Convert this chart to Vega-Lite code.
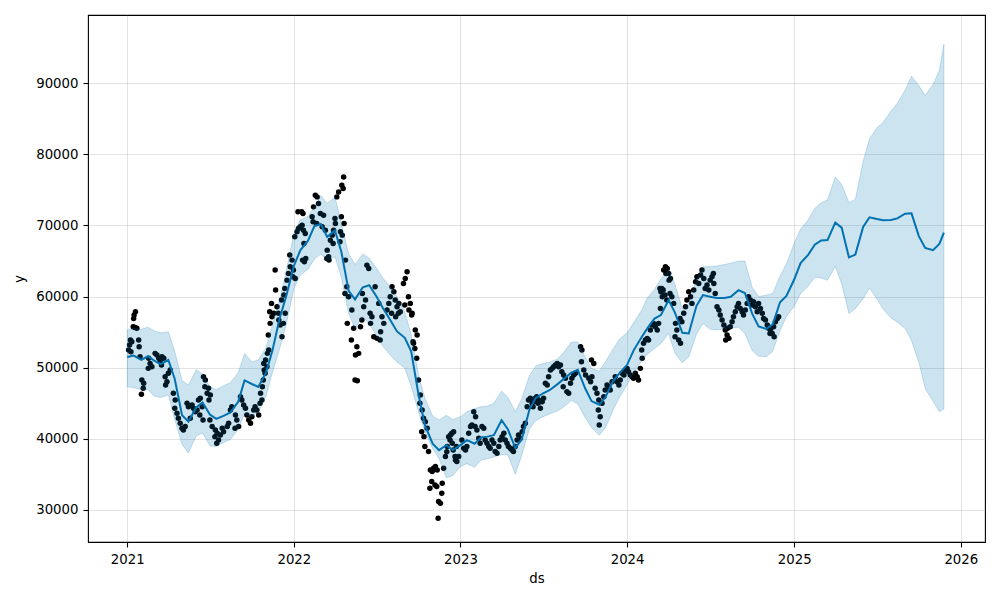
{
"$schema": "https://vega.github.io/schema/vega-lite/v6.json",
"width": 897, "height": 527,
"autosize": {"type": "none"},
"padding": {"left": 88, "top": 15, "right": 15, "bottom": 58},
"background": "white",
"config": {
 "view": {"stroke": "#000", "strokeWidth": 1.1},
 "axis": {"domain": false, "tickColor": "#000", "tickSize": 5, "tickWidth": 1.1, "labelFont": "DejaVu Sans", "labelFontSize": 13.3, "labelColor": "#000", "labelPadding": 5, "labelOverlap": false, "labelFlush": false, "titleFont": "DejaVu Sans", "titleFontSize": 13.3, "titleFontWeight": "normal", "titleColor": "#000", "grid": true, "gridColor": "#808080", "gridOpacity": 0.22, "gridWidth": 1}
},
"datasets": {
"fc": [
{"ds":"2021-01-01","yhat":51500,"lo":47300,"hi":55300},
{"ds":"2021-01-15","yhat":51700,"lo":47200,"hi":55500},
{"ds":"2021-02-01","yhat":51100,"lo":46900,"hi":55400},
{"ds":"2021-02-15","yhat":51600,"lo":46900,"hi":55700},
{"ds":"2021-03-01","yhat":51000,"lo":46000,"hi":55200},
{"ds":"2021-03-15","yhat":50500,"lo":45800,"hi":54900},
{"ds":"2021-04-01","yhat":51075,"lo":46160,"hi":55050},
{"ds":"2021-04-15","yhat":48400,"lo":42700,"hi":52300},
{"ds":"2021-05-01","yhat":43300,"lo":39200,"hi":48200},
{"ds":"2021-05-15","yhat":42400,"lo":38000,"hi":47560},
{"ds":"2021-06-01","yhat":44400,"lo":40400,"hi":49700},
{"ds":"2021-06-15","yhat":45100,"lo":40800,"hi":49100},
{"ds":"2021-07-01","yhat":43400,"lo":39000,"hi":47300},
{"ds":"2021-07-15","yhat":42800,"lo":38900,"hi":46900},
{"ds":"2021-08-01","yhat":43250,"lo":39500,"hi":47500},
{"ds":"2021-08-15","yhat":43700,"lo":39900,"hi":47900},
{"ds":"2021-09-01","yhat":45200,"lo":41300,"hi":49300},
{"ds":"2021-09-15","yhat":48200,"lo":43550,"hi":52000},
{"ds":"2021-10-01","yhat":47700,"lo":43100,"hi":50800},
{"ds":"2021-10-15","yhat":47300,"lo":43800,"hi":51100},
{"ds":"2021-11-01","yhat":49300,"lo":46000,"hi":52800},
{"ds":"2021-11-15","yhat":52400,"lo":49300,"hi":56000},
{"ds":"2021-12-01","yhat":57000,"lo":52700,"hi":59600},
{"ds":"2021-12-15","yhat":60000,"lo":56000,"hi":63500},
{"ds":"2022-01-01","yhat":64300,"lo":61100,"hi":68900},
{"ds":"2022-01-15","yhat":66500,"lo":63000,"hi":70800},
{"ds":"2022-02-01","yhat":67850,"lo":63850,"hi":71250},
{"ds":"2022-02-15","yhat":69900,"lo":65300,"hi":72600},
{"ds":"2022-03-01","yhat":70200,"lo":66000,"hi":74200},
{"ds":"2022-03-15","yhat":68400,"lo":65000,"hi":73100},
{"ds":"2022-04-01","yhat":69300,"lo":65600,"hi":74000},
{"ds":"2022-04-15","yhat":66300,"lo":62700,"hi":70300},
{"ds":"2022-05-01","yhat":60800,"lo":57600,"hi":66000},
{"ds":"2022-05-15","yhat":59600,"lo":55500,"hi":64500},
{"ds":"2022-06-01","yhat":61300,"lo":57200,"hi":66000},
{"ds":"2022-06-15","yhat":61600,"lo":56100,"hi":65400},
{"ds":"2022-07-01","yhat":60000,"lo":54500,"hi":64000},
{"ds":"2022-07-15","yhat":58400,"lo":53000,"hi":62600},
{"ds":"2022-08-01","yhat":56600,"lo":51700,"hi":61300},
{"ds":"2022-08-15","yhat":55100,"lo":50800,"hi":60000},
{"ds":"2022-09-01","yhat":54200,"lo":49900,"hi":57800},
{"ds":"2022-09-15","yhat":52300,"lo":47400,"hi":54700},
{"ds":"2022-10-01","yhat":46200,"lo":43800,"hi":49000},
{"ds":"2022-10-15","yhat":41900,"lo":41000,"hi":45700},
{"ds":"2022-11-01","yhat":39300,"lo":38600,"hi":43200},
{"ds":"2022-11-15","yhat":38400,"lo":37200,"hi":42650},
{"ds":"2022-12-01","yhat":39100,"lo":34500,"hi":43300},
{"ds":"2022-12-15","yhat":38400,"lo":34800,"hi":42700},
{"ds":"2023-01-01","yhat":39100,"lo":36100,"hi":43100},
{"ds":"2023-01-15","yhat":39800,"lo":36500,"hi":43800},
{"ds":"2023-02-01","yhat":39300,"lo":36000,"hi":44250},
{"ds":"2023-02-15","yhat":40200,"lo":37000,"hi":44500},
{"ds":"2023-03-01","yhat":40300,"lo":37200,"hi":44600},
{"ds":"2023-03-15","yhat":40500,"lo":37450,"hi":45000},
{"ds":"2023-04-01","yhat":42600,"lo":37800,"hi":46700},
{"ds":"2023-04-15","yhat":41300,"lo":37700,"hi":45800},
{"ds":"2023-05-01","yhat":38700,"lo":35000,"hi":43800},
{"ds":"2023-05-15","yhat":39900,"lo":37600,"hi":45600},
{"ds":"2023-06-01","yhat":44100,"lo":41400,"hi":48900},
{"ds":"2023-06-15","yhat":45750,"lo":42550,"hi":50250},
{"ds":"2023-07-01","yhat":46400,"lo":43100,"hi":50600},
{"ds":"2023-07-15","yhat":46830,"lo":43500,"hi":50760},
{"ds":"2023-08-01","yhat":47650,"lo":43900,"hi":51200},
{"ds":"2023-08-15","yhat":48400,"lo":44450,"hi":52150},
{"ds":"2023-09-01","yhat":49300,"lo":45400,"hi":53600},
{"ds":"2023-09-15","yhat":49700,"lo":44900,"hi":53600},
{"ds":"2023-10-01","yhat":47100,"lo":43000,"hi":51500},
{"ds":"2023-10-15","yhat":45300,"lo":41600,"hi":49900},
{"ds":"2023-11-01","yhat":44780,"lo":40500,"hi":49500},
{"ds":"2023-11-15","yhat":45900,"lo":41600,"hi":50900},
{"ds":"2023-12-01","yhat":48100,"lo":44000,"hi":52600},
{"ds":"2023-12-15","yhat":49200,"lo":45800,"hi":54000},
{"ds":"2024-01-01","yhat":50400,"lo":47600,"hi":54900},
{"ds":"2024-01-15","yhat":52400,"lo":49300,"hi":56300},
{"ds":"2024-02-01","yhat":54200,"lo":50900,"hi":58000},
{"ds":"2024-02-15","yhat":55600,"lo":51900,"hi":59900},
{"ds":"2024-03-01","yhat":56900,"lo":52700,"hi":61000},
{"ds":"2024-03-15","yhat":57400,"lo":53400,"hi":62500},
{"ds":"2024-04-01","yhat":59500,"lo":54800,"hi":63700},
{"ds":"2024-04-15","yhat":57700,"lo":52000,"hi":61700},
{"ds":"2024-05-01","yhat":54900,"lo":50700,"hi":58300},
{"ds":"2024-05-15","yhat":54800,"lo":51500,"hi":59000},
{"ds":"2024-06-01","yhat":58700,"lo":54700,"hi":62300},
{"ds":"2024-06-15","yhat":60200,"lo":56200,"hi":64190},
{"ds":"2024-07-01","yhat":59970,"lo":55400,"hi":64190},
{"ds":"2024-07-15","yhat":59800,"lo":55300,"hi":64300},
{"ds":"2024-08-01","yhat":59800,"lo":55500,"hi":64500},
{"ds":"2024-08-15","yhat":59970,"lo":55600,"hi":64700},
{"ds":"2024-09-01","yhat":60900,"lo":55700,"hi":65000},
{"ds":"2024-09-15","yhat":60500,"lo":54800,"hi":65000},
{"ds":"2024-10-01","yhat":57600,"lo":52400,"hi":61300},
{"ds":"2024-10-15","yhat":55800,"lo":51600,"hi":60000},
{"ds":"2024-11-01","yhat":55450,"lo":51550,"hi":60200},
{"ds":"2024-11-15","yhat":56100,"lo":52300,"hi":60440},
{"ds":"2024-12-01","yhat":59200,"lo":55200,"hi":62900},
{"ds":"2024-12-15","yhat":60100,"lo":57200,"hi":64600},
{"ds":"2025-01-01","yhat":62400,"lo":58600,"hi":67500},
{"ds":"2025-01-15","yhat":64700,"lo":60400,"hi":69500},
{"ds":"2025-02-01","yhat":65900,"lo":61500,"hi":70800},
{"ds":"2025-02-15","yhat":67300,"lo":62700,"hi":72400},
{"ds":"2025-03-01","yhat":67900,"lo":62600,"hi":73200},
{"ds":"2025-03-15","yhat":67950,"lo":62300,"hi":73600},
{"ds":"2025-04-01","yhat":70400,"lo":64200,"hi":76800},
{"ds":"2025-04-15","yhat":69700,"lo":61800,"hi":75800},
{"ds":"2025-05-01","yhat":65500,"lo":57600,"hi":73200},
{"ds":"2025-05-15","yhat":65900,"lo":58300,"hi":73700},
{"ds":"2025-06-01","yhat":69800,"lo":59700,"hi":79000},
{"ds":"2025-06-15","yhat":71150,"lo":61200,"hi":82200},
{"ds":"2025-07-01","yhat":70900,"lo":59700,"hi":83700},
{"ds":"2025-07-15","yhat":70745,"lo":58200,"hi":84500},
{"ds":"2025-08-01","yhat":70760,"lo":57000,"hi":86100},
{"ds":"2025-08-15","yhat":71000,"lo":56400,"hi":87200},
{"ds":"2025-09-01","yhat":71650,"lo":55500,"hi":89000},
{"ds":"2025-09-15","yhat":71700,"lo":53800,"hi":91000},
{"ds":"2025-10-01","yhat":68500,"lo":50800,"hi":89700},
{"ds":"2025-10-15","yhat":66850,"lo":47050,"hi":88300},
{"ds":"2025-11-01","yhat":66530,"lo":45300,"hi":89800},
{"ds":"2025-11-15","yhat":67400,"lo":43800,"hi":91800},
{"ds":"2025-11-25","yhat":69000,"lo":44200,"hi":95500}
],
"pts": [
{"ds":"2021-004","y":52480},{"ds":"2021-006","y":53180},{"ds":"2021-008","y":53885},{"ds":"2021-009","y":52240},{"ds":"2021-011","y":53650},{"ds":"2021-015","y":56930},{"ds":"2021-014","y":55750},{"ds":"2021-016","y":57400},{"ds":"2021-019","y":57860},{"ds":"2021-018","y":55660},{"ds":"2021-022","y":55530},{"ds":"2021-026","y":53885},{"ds":"2021-027","y":52945},{"ds":"2021-029","y":51540},{"ds":"2021-033","y":48265},{"ds":"2021-032","y":46260},{"ds":"2021-037","y":47800},{"ds":"2021-036","y":47100},{"ds":"2021-048","y":51310},{"ds":"2021-047","y":49900},{"ds":"2021-051","y":50600},{"ds":"2021-055","y":50130},{"ds":"2021-062","y":52010},{"ds":"2021-066","y":51775},{"ds":"2021-070","y":51310},{"ds":"2021-073","y":50835},{"ds":"2021-077","y":51540},{"ds":"2021-076","y":50370},{"ds":"2021-081","y":51310},{"ds":"2021-084","y":48730},{"ds":"2021-085","y":47560},{"ds":"2021-088","y":48030},{"ds":"2021-091","y":49200},{"ds":"2021-095","y":49670},{"ds":"2021-102","y":46390},{"ds":"2021-106","y":45455},{"ds":"2021-105","y":44290},{"ds":"2021-110","y":43590},{"ds":"2021-113","y":42880},{"ds":"2021-117","y":42180},{"ds":"2021-121","y":41480},{"ds":"2021-124","y":41240},{"ds":"2021-128","y":41710},{"ds":"2021-132","y":45000},{"ds":"2021-135","y":44510},{"ds":"2021-139","y":42880},{"ds":"2021-143","y":44750},{"ds":"2021-146","y":44290},{"ds":"2021-150","y":43800},{"ds":"2021-154","y":44050},{"ds":"2021-157","y":45455},{"ds":"2021-161","y":45690},{"ds":"2021-160","y":43350},{"ds":"2021-165","y":44510},{"ds":"2021-168","y":48730},{"ds":"2021-167","y":42650},{"ds":"2021-172","y":48265},{"ds":"2021-171","y":47325},{"ds":"2021-176","y":46390},{"ds":"2021-179","y":47100},{"ds":"2021-180","y":45455},{"ds":"2021-183","y":46160},{"ds":"2021-182","y":42650},{"ds":"2021-187","y":41710},{"ds":"2021-194","y":41240},{"ds":"2021-193","y":40300},{"ds":"2021-198","y":40770},{"ds":"2021-197","y":39370},{"ds":"2021-201","y":39835},{"ds":"2021-205","y":40540},{"ds":"2021-209","y":41480},{"ds":"2021-212","y":41000},{"ds":"2021-220","y":41710},{"ds":"2021-223","y":42180},{"ds":"2021-227","y":44050},{"ds":"2021-230","y":44510},{"ds":"2021-238","y":43350},{"ds":"2021-237","y":41480},{"ds":"2021-241","y":42650},{"ds":"2021-245","y":41710},{"ds":"2021-249","y":45925},{"ds":"2021-252","y":45455},{"ds":"2021-256","y":44750},{"ds":"2021-260","y":44290},{"ds":"2021-263","y":43350},{"ds":"2021-267","y":42650},{"ds":"2021-271","y":42180},{"ds":"2021-274","y":43100},{"ds":"2021-278","y":44050},{"ds":"2021-281","y":44510},{"ds":"2021-285","y":44050},{"ds":"2021-289","y":43350},{"ds":"2021-292","y":45000},{"ds":"2021-293","y":46390},{"ds":"2021-296","y":45455},{"ds":"2021-297","y":47325},{"ds":"2021-299","y":48265},{"ds":"2021-300","y":50600},{"ds":"2021-301","y":49670},{"ds":"2021-303","y":49200},{"ds":"2021-304","y":51075},{"ds":"2021-307","y":50130},{"ds":"2021-308","y":52010},{"ds":"2021-311","y":52480},{"ds":"2021-310","y":54590},{"ds":"2021-314","y":56230},{"ds":"2021-313","y":57870},{"ds":"2021-318","y":57170},{"ds":"2021-317","y":59040},{"ds":"2021-322","y":57640},{"ds":"2021-325","y":63720},{"ds":"2021-326","y":60910},{"ds":"2021-329","y":58560},{"ds":"2021-332","y":57640},{"ds":"2021-333","y":56700},{"ds":"2021-336","y":56000},{"ds":"2021-340","y":54350},{"ds":"2021-339","y":59505},{"ds":"2021-343","y":56230},{"ds":"2021-344","y":60205},{"ds":"2021-347","y":57640},{"ds":"2021-346","y":61145},{"ds":"2021-351","y":62310},{"ds":"2021-354","y":63250},{"ds":"2021-358","y":64190},{"ds":"2021-357","y":65830},{"ds":"2021-362","y":65125},{"ds":"2021-364","y":62780},{"ds":"2021-365","y":63720},
{"ds":"2022-004","y":62550},{"ds":"2022-003","y":68400},{"ds":"2022-008","y":69100},{"ds":"2022-011","y":69575},{"ds":"2022-010","y":71915},{"ds":"2022-015","y":69810},{"ds":"2022-019","y":70040},{"ds":"2022-018","y":71915},{"ds":"2022-020","y":65125},{"ds":"2022-022","y":69340},{"ds":"2022-023","y":67465},{"ds":"2022-021","y":71680},{"ds":"2022-024","y":64890},{"ds":"2022-026","y":68880},{"ds":"2022-027","y":65360},{"ds":"2022-041","y":71210},{"ds":"2022-044","y":72615},{"ds":"2022-043","y":70510},{"ds":"2022-048","y":74255},{"ds":"2022-052","y":74020},{"ds":"2022-051","y":70275},{"ds":"2022-055","y":73080},{"ds":"2022-059","y":71680},{"ds":"2022-063","y":69810},{"ds":"2022-066","y":71445},{"ds":"2022-070","y":69340},{"ds":"2022-074","y":66530},{"ds":"2022-073","y":65360},{"ds":"2022-077","y":65595},{"ds":"2022-078","y":65125},{"ds":"2022-081","y":67935},{"ds":"2022-085","y":68640},{"ds":"2022-088","y":69340},{"ds":"2022-087","y":67465},{"ds":"2022-092","y":70275},{"ds":"2022-091","y":70980},{"ds":"2022-095","y":74020},{"ds":"2022-099","y":74720},{"ds":"2022-103","y":69100},{"ds":"2022-102","y":67700},{"ds":"2022-106","y":75660},{"ds":"2022-105","y":71210},{"ds":"2022-107","y":68640},{"ds":"2022-110","y":76830},{"ds":"2022-109","y":75190},{"ds":"2022-111","y":70275},{"ds":"2022-114","y":65125},{"ds":"2022-113","y":60440},{"ds":"2022-117","y":61375},{"ds":"2022-118","y":56230},{"ds":"2022-121","y":59970},{"ds":"2022-128","y":58100},{"ds":"2022-127","y":53885},{"ds":"2022-132","y":55530},{"ds":"2022-136","y":51775},{"ds":"2022-135","y":48265},{"ds":"2022-139","y":52945},{"ds":"2022-140","y":48170},{"ds":"2022-143","y":52010},{"ds":"2022-147","y":55750},{"ds":"2022-150","y":56700},{"ds":"2022-151","y":60440},{"ds":"2022-154","y":58560},{"ds":"2022-158","y":59505},{"ds":"2022-161","y":64420},{"ds":"2022-165","y":63950},{"ds":"2022-168","y":57640},{"ds":"2022-169","y":56230},{"ds":"2022-172","y":57170},{"ds":"2022-176","y":54350},{"ds":"2022-179","y":61375},{"ds":"2022-183","y":54120},{"ds":"2022-187","y":59040},{"ds":"2022-190","y":53885},{"ds":"2022-191","y":55060},{"ds":"2022-194","y":57170},{"ds":"2022-198","y":56230},{"ds":"2022-205","y":58100},{"ds":"2022-209","y":59040},{"ds":"2022-212","y":59970},{"ds":"2022-216","y":61375},{"ds":"2022-215","y":57640},{"ds":"2022-220","y":60670},{"ds":"2022-223","y":59505},{"ds":"2022-224","y":57170},{"ds":"2022-227","y":58560},{"ds":"2022-230","y":57640},{"ds":"2022-231","y":59040},{"ds":"2022-234","y":57870},{"ds":"2022-241","y":61850},{"ds":"2022-245","y":62550},{"ds":"2022-244","y":58800},{"ds":"2022-249","y":63480},{"ds":"2022-252","y":59970},{"ds":"2022-253","y":58100},{"ds":"2022-256","y":59040},{"ds":"2022-260","y":57640},{"ds":"2022-259","y":57400},{"ds":"2022-263","y":53420},{"ds":"2022-262","y":53650},{"ds":"2022-267","y":55290},{"ds":"2022-266","y":52710},{"ds":"2022-271","y":54590},{"ds":"2022-270","y":51310},{"ds":"2022-274","y":48265},{"ds":"2022-278","y":46160},{"ds":"2022-277","y":45000},{"ds":"2022-282","y":44050},{"ds":"2022-281","y":41000},{"ds":"2022-285","y":42880},{"ds":"2022-286","y":40300},{"ds":"2022-289","y":42410},{"ds":"2022-288","y":38900},{"ds":"2022-293","y":41480},{"ds":"2022-296","y":38200},{"ds":"2022-300","y":35620},{"ds":"2022-299","y":33040},{"ds":"2022-304","y":35385},{"ds":"2022-303","y":33980},{"ds":"2022-307","y":35850},{"ds":"2022-311","y":36090},{"ds":"2022-310","y":33510},{"ds":"2022-315","y":35620},{"ds":"2022-314","y":33275},{"ds":"2022-318","y":31165},{"ds":"2022-317","y":28830},{"ds":"2022-322","y":30930},{"ds":"2022-326","y":33740},{"ds":"2022-325","y":32335},{"ds":"2022-329","y":35850},{"ds":"2022-333","y":37490},{"ds":"2022-336","y":38190},{"ds":"2022-337","y":38900},{"ds":"2022-340","y":40300},{"ds":"2022-344","y":40540},{"ds":"2022-343","y":39835},{"ds":"2022-347","y":40770},{"ds":"2022-348","y":39370},{"ds":"2022-351","y":41000},{"ds":"2022-350","y":38430},{"ds":"2022-355","y":37025},{"ds":"2022-354","y":37490},{"ds":"2022-358","y":36790},{"ds":"2022-357","y":38900},{"ds":"2022-362","y":37490},
{"ds":"2023-004","y":39835},{"ds":"2023-008","y":38670},{"ds":"2023-012","y":38430},{"ds":"2023-015","y":38900},{"ds":"2023-019","y":40770},{"ds":"2023-023","y":41710},{"ds":"2023-026","y":41940},{"ds":"2023-030","y":43800},{"ds":"2023-034","y":43100},{"ds":"2023-033","y":41710},{"ds":"2023-037","y":41240},{"ds":"2023-041","y":40070},{"ds":"2023-044","y":39370},{"ds":"2023-048","y":41710},{"ds":"2023-052","y":41480},{"ds":"2023-055","y":39835},{"ds":"2023-059","y":39370},{"ds":"2023-063","y":38900},{"ds":"2023-066","y":38670},{"ds":"2023-070","y":39835},{"ds":"2023-074","y":39370},{"ds":"2023-077","y":38200},{"ds":"2023-081","y":37960},{"ds":"2023-085","y":38900},{"ds":"2023-088","y":39835},{"ds":"2023-092","y":40300},{"ds":"2023-096","y":40770},{"ds":"2023-099","y":39835},{"ds":"2023-103","y":39370},{"ds":"2023-106","y":38900},{"ds":"2023-110","y":38670},{"ds":"2023-114","y":38430},{"ds":"2023-117","y":38200},{"ds":"2023-121","y":38900},{"ds":"2023-125","y":39835},{"ds":"2023-128","y":40540},{"ds":"2023-132","y":40070},{"ds":"2023-136","y":41000},{"ds":"2023-139","y":41710},{"ds":"2023-143","y":42180},{"ds":"2023-147","y":44510},{"ds":"2023-150","y":45455},{"ds":"2023-154","y":45690},{"ds":"2023-158","y":45000},{"ds":"2023-161","y":45455},{"ds":"2023-160","y":44510},{"ds":"2023-165","y":45690},{"ds":"2023-169","y":45215},{"ds":"2023-168","y":45925},{"ds":"2023-172","y":45455},{"ds":"2023-171","y":45000},{"ds":"2023-176","y":44290},{"ds":"2023-180","y":45215},{"ds":"2023-183","y":45690},{"ds":"2023-187","y":47800},{"ds":"2023-191","y":47560},{"ds":"2023-194","y":48730},{"ds":"2023-198","y":49670},{"ds":"2023-202","y":49900},{"ds":"2023-205","y":50130},{"ds":"2023-209","y":50370},{"ds":"2023-213","y":50600},{"ds":"2023-216","y":50130},{"ds":"2023-220","y":50370},{"ds":"2023-223","y":49435},{"ds":"2023-227","y":48965},{"ds":"2023-226","y":47325},{"ds":"2023-231","y":48500},{"ds":"2023-234","y":46630},{"ds":"2023-238","y":46390},{"ds":"2023-242","y":47800},{"ds":"2023-245","y":48500},{"ds":"2023-249","y":48965},{"ds":"2023-253","y":49200},{"ds":"2023-264","y":52945},{"ds":"2023-267","y":52480},{"ds":"2023-266","y":50835},{"ds":"2023-271","y":49670},{"ds":"2023-275","y":48965},{"ds":"2023-282","y":48500},{"ds":"2023-286","y":48030},{"ds":"2023-289","y":48730},{"ds":"2023-288","y":51075},{"ds":"2023-293","y":50600},{"ds":"2023-296","y":47100},{"ds":"2023-300","y":46390},{"ds":"2023-304","y":45455},{"ds":"2023-303","y":44050},{"ds":"2023-307","y":43100},{"ds":"2023-305","y":41940},{"ds":"2023-311","y":45000},{"ds":"2023-315","y":45925},{"ds":"2023-318","y":46860},{"ds":"2023-322","y":47560},{"ds":"2023-326","y":47325},{"ds":"2023-329","y":46860},{"ds":"2023-333","y":48030},{"ds":"2023-340","y":48730},{"ds":"2023-344","y":48030},{"ds":"2023-348","y":47560},{"ds":"2023-351","y":48265},{"ds":"2023-355","y":49200},{"ds":"2023-359","y":48965},{"ds":"2023-362","y":49670},
{"ds":"2024-001","y":49900},{"ds":"2024-004","y":49435},{"ds":"2024-008","y":48965},{"ds":"2024-012","y":48730},{"ds":"2024-015","y":48500},{"ds":"2024-019","y":49200},{"ds":"2024-023","y":48730},{"ds":"2024-026","y":48265},{"ds":"2024-030","y":49900},{"ds":"2024-034","y":51310},{"ds":"2024-033","y":52480},{"ds":"2024-037","y":53420},{"ds":"2024-041","y":53885},{"ds":"2024-045","y":54120},{"ds":"2024-048","y":53885},{"ds":"2024-052","y":55290},{"ds":"2024-056","y":55990},{"ds":"2024-059","y":56230},{"ds":"2024-063","y":55760},{"ds":"2024-067","y":55290},{"ds":"2024-070","y":56230},{"ds":"2024-074","y":58330},{"ds":"2024-073","y":61145},{"ds":"2024-078","y":59970},{"ds":"2024-075","y":60670},{"ds":"2024-077","y":61145},{"ds":"2024-081","y":63720},{"ds":"2024-080","y":60910},{"ds":"2024-085","y":64190},{"ds":"2024-084","y":60205},{"ds":"2024-086","y":63250},{"ds":"2024-089","y":63950},{"ds":"2024-088","y":59505},{"ds":"2024-092","y":63250},{"ds":"2024-093","y":62310},{"ds":"2024-096","y":62550},{"ds":"2024-095","y":60440},{"ds":"2024-099","y":59970},{"ds":"2024-103","y":59040},{"ds":"2024-107","y":56230},{"ds":"2024-106","y":54350},{"ds":"2024-110","y":55290},{"ds":"2024-114","y":53885},{"ds":"2024-118","y":53420},{"ds":"2024-117","y":56930},{"ds":"2024-121","y":56465},{"ds":"2024-125","y":57640},{"ds":"2024-129","y":58560},{"ds":"2024-132","y":59505},{"ds":"2024-136","y":60670},{"ds":"2024-140","y":59970},{"ds":"2024-143","y":59040},{"ds":"2024-147","y":60910},{"ds":"2024-151","y":62080},{"ds":"2024-154","y":62780},{"ds":"2024-158","y":61850},{"ds":"2024-162","y":63020},{"ds":"2024-165","y":63720},{"ds":"2024-169","y":62550},{"ds":"2024-172","y":61145},{"ds":"2024-176","y":61610},{"ds":"2024-180","y":60910},{"ds":"2024-183","y":62310},{"ds":"2024-187","y":62780},{"ds":"2024-191","y":61850},{"ds":"2024-190","y":63250},{"ds":"2024-194","y":60440},{"ds":"2024-198","y":58560},{"ds":"2024-202","y":58100},{"ds":"2024-205","y":57400},{"ds":"2024-209","y":56700},{"ds":"2024-213","y":55990},{"ds":"2024-216","y":55290},{"ds":"2024-220","y":54590},{"ds":"2024-224","y":54120},{"ds":"2024-217","y":53885},{"ds":"2024-221","y":55530},{"ds":"2024-227","y":55760},{"ds":"2024-231","y":56465},{"ds":"2024-234","y":57170},{"ds":"2024-238","y":57870},{"ds":"2024-242","y":58560},{"ds":"2024-245","y":59040},{"ds":"2024-249","y":58330},{"ds":"2024-253","y":57870},{"ds":"2024-256","y":57400},{"ds":"2024-260","y":58100},{"ds":"2024-264","y":59040},{"ds":"2024-267","y":59970},{"ds":"2024-271","y":59505},{"ds":"2024-275","y":58800},{"ds":"2024-278","y":59270},{"ds":"2024-282","y":58560},{"ds":"2024-286","y":57870},{"ds":"2024-289","y":59040},{"ds":"2024-293","y":58330},{"ds":"2024-297","y":57640},{"ds":"2024-300","y":56930},{"ds":"2024-304","y":56700},{"ds":"2024-308","y":55990},{"ds":"2024-311","y":55530},{"ds":"2024-315","y":55290},{"ds":"2024-314","y":54820},{"ds":"2024-319","y":54820},{"ds":"2024-322","y":55760},{"ds":"2024-323","y":54350},{"ds":"2024-326","y":56465},{"ds":"2024-330","y":56930},{"ds":"2024-333","y":57170}
]
},
"layer": [
 {"data": {"name": "pts", "format": {"parse": {"ds": "utc:'%Y-%j'"}}},
  "mark": {"type": "circle", "size": 30, "color": "#000", "opacity": 1},
  "encoding": {
   "x": {"field": "ds", "type": "temporal", "title": "ds",
     "scale": {"domain": [{"year": 2020, "month": 10, "date": 7}, {"year": 2026, "month": 2, "date": 23}], "nice": false},
     "axis": {"values": [{"year": 2021, "month": 1, "date": 1}, {"year": 2022, "month": 1, "date": 1}, {"year": 2023, "month": 1, "date": 1}, {"year": 2024, "month": 1, "date": 1}, {"year": 2025, "month": 1, "date": 1}, {"year": 2026, "month": 1, "date": 1}], "format": "%Y", "titlePadding": 6}},
   "y": {"field": "y", "type": "quantitative", "title": "y",
     "scale": {"domain": [25480, 99600], "nice": false, "zero": false},
     "axis": {"values": [30000, 40000, 50000, 60000, 70000, 80000, 90000], "format": "d", "titlePadding": 9}}
  }},
 {"data": {"name": "fc"},
  "mark": {"type": "line", "color": "#0072B2", "strokeWidth": 2},
  "encoding": {"x": {"field": "ds", "type": "temporal"}, "y": {"field": "yhat", "type": "quantitative"}}},
 {"data": {"name": "fc"},
  "mark": {"type": "area", "color": "#0072B2", "fillOpacity": 0.2, "stroke": "#0072B2", "strokeOpacity": 0.2, "strokeWidth": 1},
  "encoding": {"x": {"field": "ds", "type": "temporal"}, "y": {"field": "lo", "type": "quantitative"}, "y2": {"field": "hi"}}}
]
}
